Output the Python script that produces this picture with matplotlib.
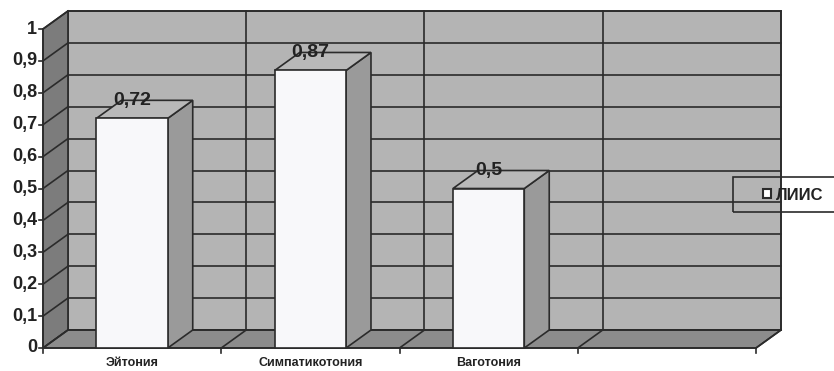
import matplotlib.pyplot as plt
from matplotlib.patches import Polygon, Rectangle, Patch

plt.rcParams['font.family'] = ['Liberation Sans', 'DejaVu Sans']

categories = ['Эйтония', 'Симпатикотония', 'Ваготония', '']
values = [0.72, 0.87, 0.5]
value_labels = ['0,72', '0,87', '0,5']
y_ticks = [0, 0.1, 0.2, 0.3, 0.4, 0.5, 0.6, 0.7, 0.8, 0.9, 1]
y_tick_labels = ['0', '0,1', '0,2', '0,3', '0,4', '0,5', '0,6', '0,7', '0,8', '0,9', '1']
series_name = 'ЛИИС'

# 3d look: depth offset of the back wall (category units, value units)
DX, DY = 0.14, 0.0564
BAR_W = 0.4
EDGE = '#2b2b2b'
TXT = '#222222'
LW = 1.2

n_cat = len(categories)
fig = plt.figure(figsize=(8.34, 3.71), dpi=100)
ax = fig.add_axes([0, 0, 1, 1])
ax.set_xlim(-43 / 178.25, 791 / 178.25)
ax.set_ylim(-23 / 319, 348 / 319)
ax.axis('off')

# walls and floor
ax.add_patch(Rectangle((DX, DY), n_cat, 1, facecolor='#b4b4b4', edgecolor=EDGE, lw=LW, zorder=1))
ax.add_patch(Polygon([(0, 0), (DX, DY), (DX, 1 + DY), (0, 1)], closed=True,
                     facecolor='#7c7c7c', edgecolor=EDGE, lw=LW, zorder=1))
ax.add_patch(Polygon([(0, 0), (n_cat, 0), (n_cat + DX, DY), (DX, DY)], closed=True,
                     facecolor='#8c8c8c', edgecolor=EDGE, lw=LW, zorder=1))

# gridlines on the side wall and the back wall
for v in y_ticks:
    ax.plot([0, DX], [v, v + DY], color=EDGE, lw=LW, zorder=2)
    ax.plot([DX, n_cat + DX], [v + DY, v + DY], color=EDGE, lw=LW, zorder=2)
for i in range(1, n_cat + 1):
    ax.plot([i + DX, i + DX], [DY, 1 + DY], color=EDGE, lw=LW, zorder=2)
    ax.plot([i, i + DX], [0, DY], color=EDGE, lw=LW, zorder=2)

# axes lines and ticks
ax.plot([0, 0], [0, 1], color=EDGE, lw=LW, zorder=5)
ax.plot([0, n_cat], [0, 0], color=EDGE, lw=LW, zorder=5)
for v, lab in zip(y_ticks, y_tick_labels):
    ax.plot([-0.022, 0], [v, v], color=EDGE, lw=LW, zorder=5)
    ax.text(-0.033, v, lab, ha='right', va='center', fontsize=13,
            fontweight='bold', color=TXT)
for i in range(n_cat + 1):
    ax.plot([i, i], [-0.016, 0], color=EDGE, lw=LW, zorder=5)
for i, cat in enumerate(categories):
    ax.text(i + 0.5, -0.048, cat, ha='center', va='center', fontsize=9,
            fontweight='bold', color=TXT)

# columns
for i, v in enumerate(values):
    x0 = i + 0.5 - BAR_W / 2
    x1 = x0 + BAR_W
    ax.add_patch(Polygon([(x1, 0), (x1 + DX, DY), (x1 + DX, v + DY), (x1, v)], closed=True,
                         facecolor='#9a9a9a', edgecolor=EDGE, lw=LW, zorder=6))
    ax.add_patch(Polygon([(x0, v), (x1, v), (x1 + DX, v + DY), (x0 + DX, v + DY)], closed=True,
                         facecolor='#b9b9b9', edgecolor=EDGE, lw=LW, zorder=6))
    ax.add_patch(Rectangle((x0, 0), BAR_W, v, facecolor='#f8f8fa', edgecolor=EDGE,
                           lw=LW, zorder=7))
    ax.text(i + 0.5, v + DY, value_labels[i], ha='center', va='center', fontsize=14,
            fontweight='bold', color=TXT, zorder=8)

# legend
ax.add_patch(Rectangle((3.871, 0.426), 0.7, 0.11, facecolor='none', edgecolor=EDGE,
                       lw=LW, zorder=9, clip_on=False))
ax.legend(handles=[Patch(facecolor='white', edgecolor=EDGE, linewidth=1.5, label=series_name)],
          loc='center left', bbox_to_anchor=(748 / 834, 176 / 371), frameon=False,
          handlelength=0.45, handleheight=0.45, handletextpad=0.3,
          prop={'weight': 'bold', 'size': 12}, labelcolor=TXT)

fig.savefig('out.png', dpi=100)
